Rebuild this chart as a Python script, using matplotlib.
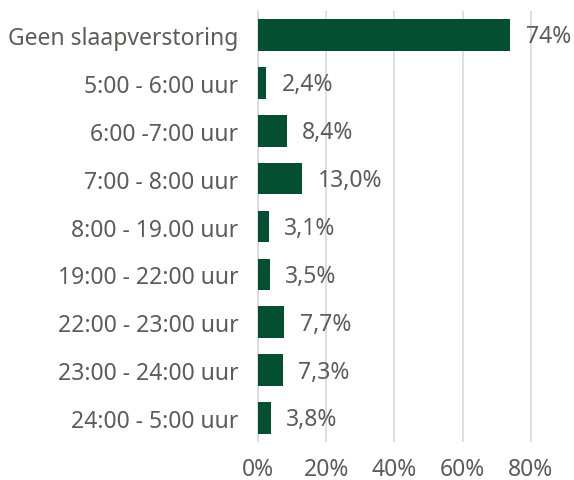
import matplotlib.pyplot as plt

categorieen = ["Geen slaapverstoring", "5:00 - 6:00 uur", "6:00 -7:00 uur", "7:00 - 8:00 uur",
               "8:00 - 19.00 uur", "19:00 - 22:00 uur", "22:00 - 23:00 uur",
               "23:00 - 24:00 uur", "24:00 - 5:00 uur"]
waarden = [74, 2.4, 8.4, 13.0, 3.1, 3.5, 7.7, 7.3, 3.8]
labels = ["74%", "2,4%", "8,4%", "13,0%", "3,1%", "3,5%", "7,7%", "7,3%", "3,8%"]
ticks = [0, 20, 40, 60, 80]

plt.rcParams['font.family'] = ['Noto Sans', 'DejaVu Sans']
grijs = '#5c5c58'
groen = '#044E31'

fig = plt.figure(figsize=(5.74, 4.81), dpi=100)
ax = fig.add_axes([0.4495, 0.079, 0.505, 0.896])

y = list(range(len(categorieen)))
ax.barh(y, waarden, height=0.66, color=groen, zorder=3)
for yi, w, lab in zip(y, waarden, labels):
    ax.annotate(lab, (w, yi), xytext=(11, -1), textcoords='offset points',
                va='center', ha='left', fontsize=16.5, color=grijs)

ax.set_xlim(0, 85)
ax.set_ylim(8.5, -0.5)
ax.set_yticks(y)
ax.set_yticklabels(categorieen)
ax.set_xticks(ticks)
ax.set_xticklabels([f"{t}%" for t in ticks])
ax.tick_params(axis='both', length=0, labelsize=16.5, labelcolor=grijs)
ax.tick_params(axis='y', pad=14)
ax.tick_params(axis='x', pad=11)
ax.grid(axis='x', color='#d9d9d9', linewidth=1.2, zorder=0)
for s in ['top', 'right', 'bottom']:
    ax.spines[s].set_visible(False)
ax.spines['left'].set_color('#d9d9d9')
ax.spines['left'].set_linewidth(1.2)

fig.savefig('out.png', dpi=100)
